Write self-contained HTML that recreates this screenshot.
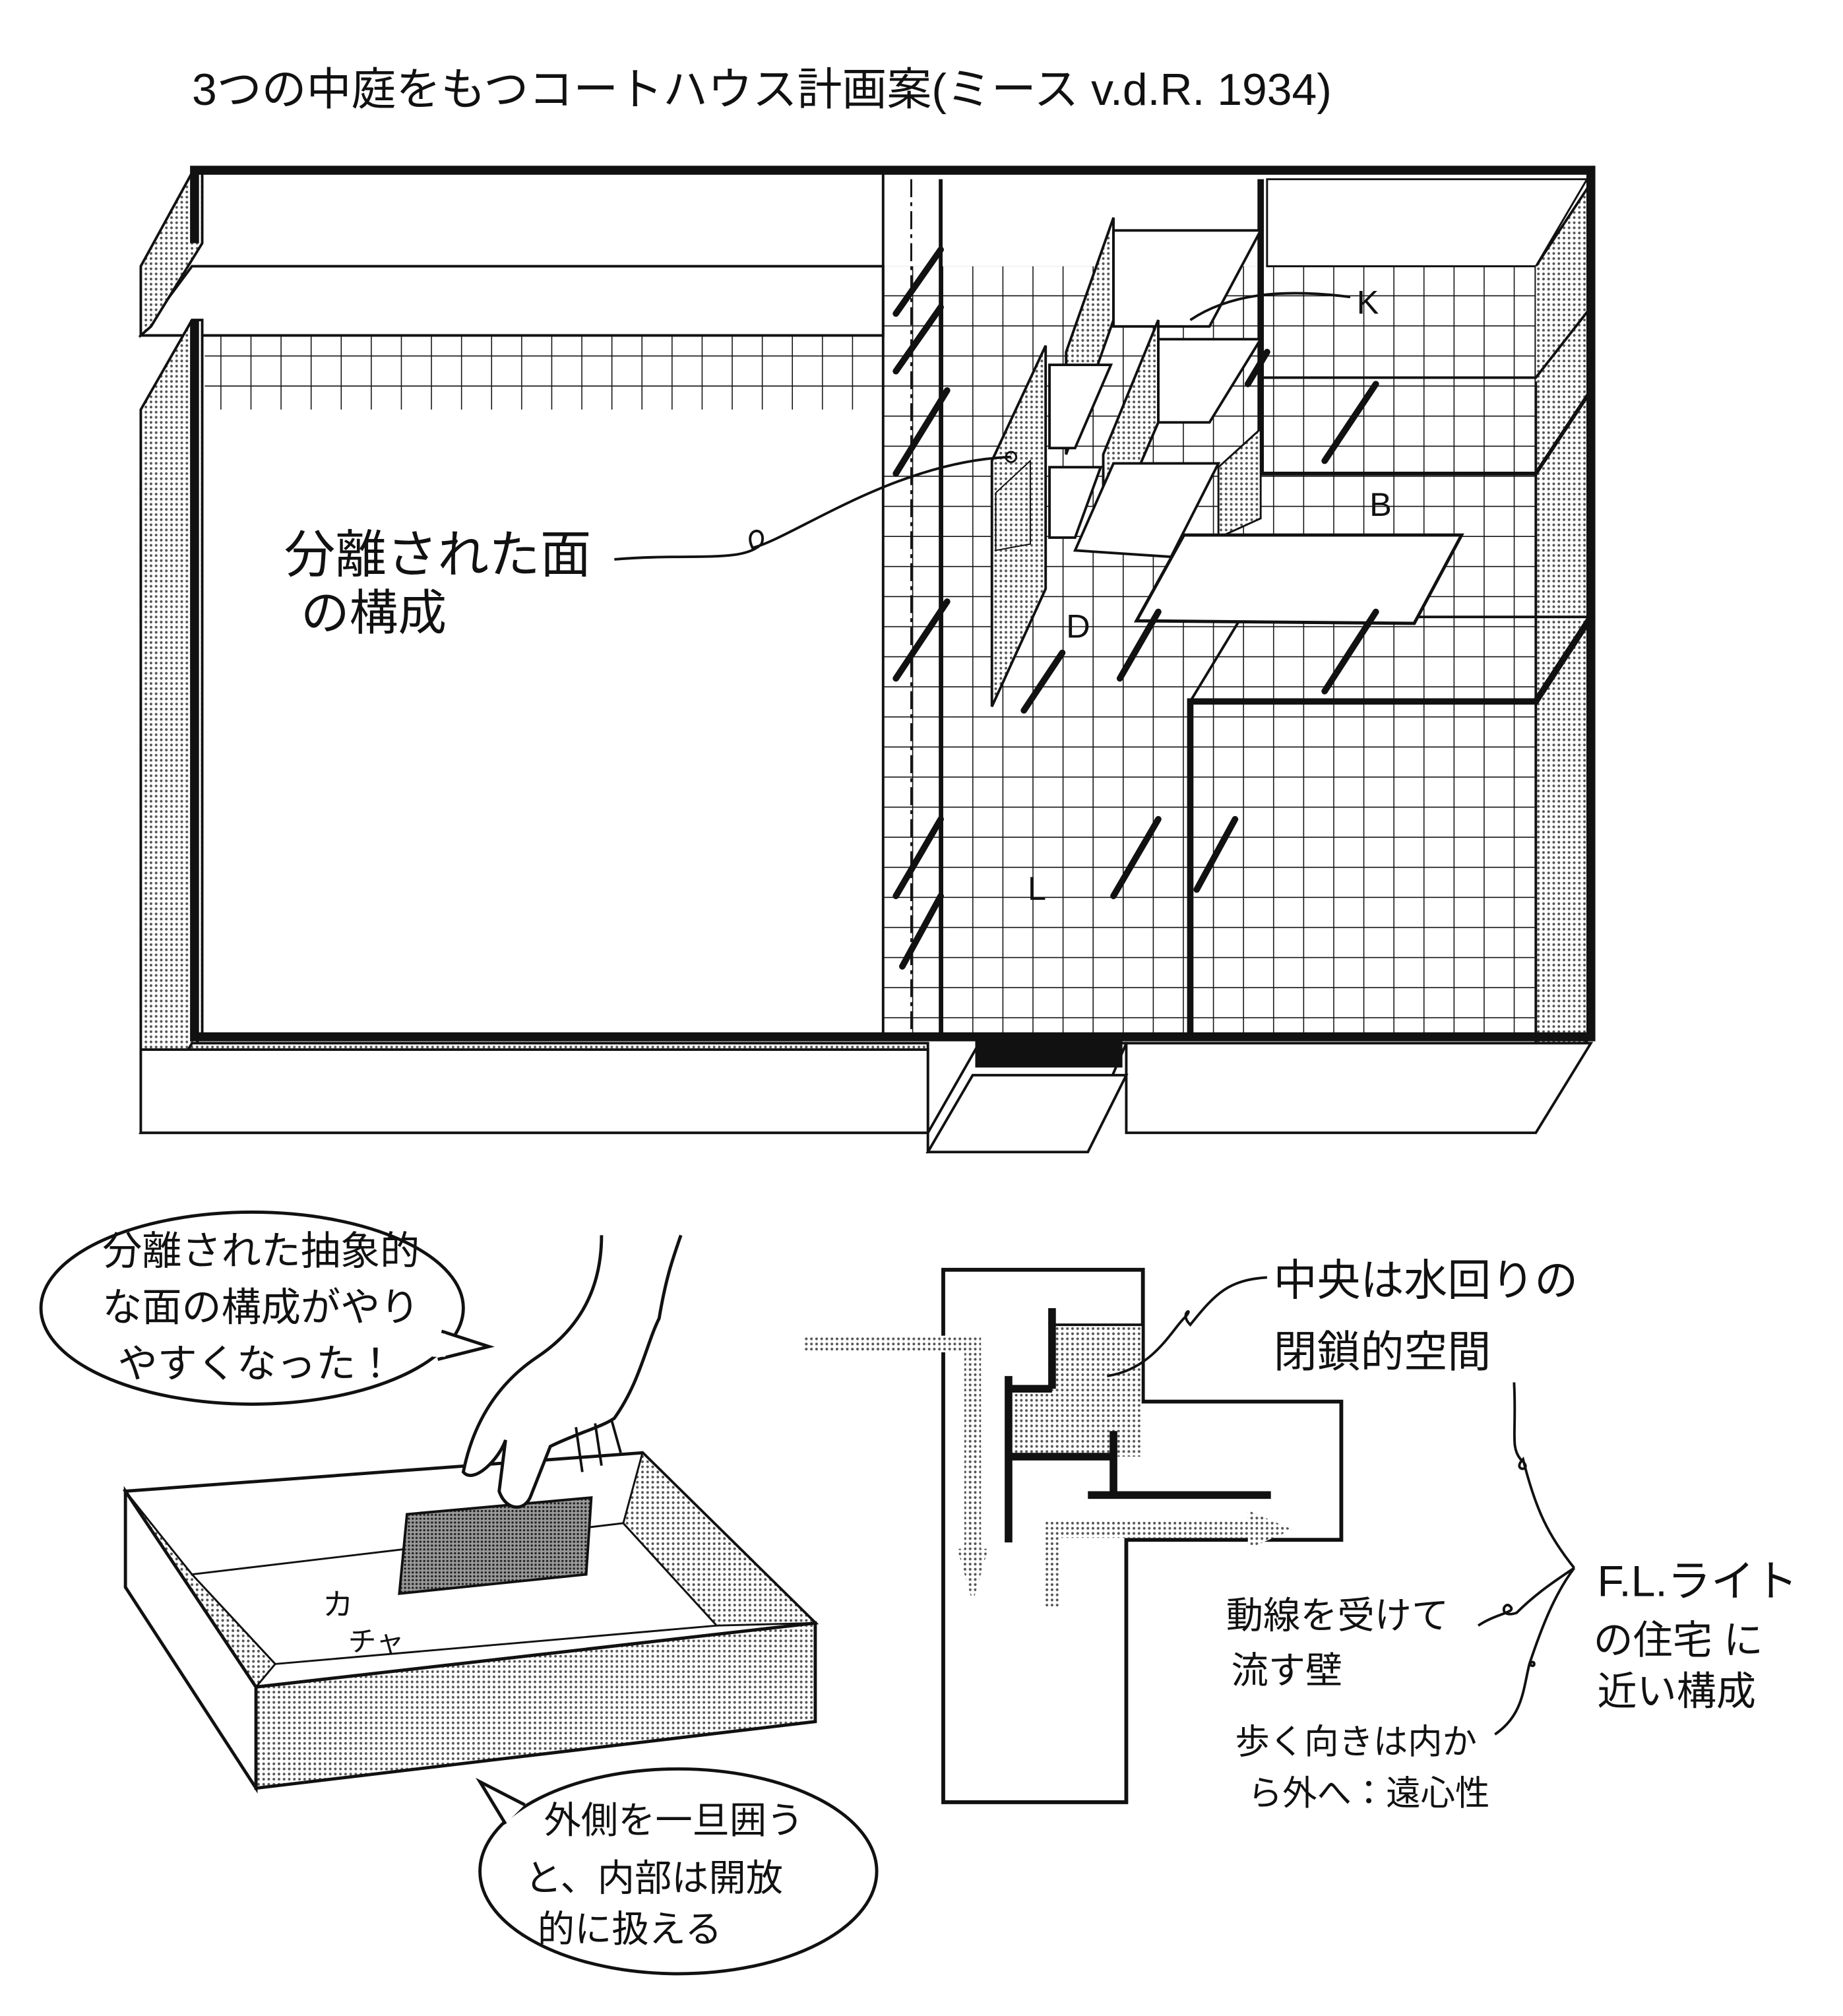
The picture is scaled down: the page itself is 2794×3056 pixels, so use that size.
<!DOCTYPE html>
<html><head><meta charset="utf-8">
<style>
html,body{margin:0;padding:0;background:#fff;}
svg{display:block;}
text{font-family:"Liberation Sans","Noto Sans CJK JP",sans-serif;fill:#111;}
</style></head>
<body>
<svg width="2794" height="3056" viewBox="0 0 1440 1575" xmlns="http://www.w3.org/2000/svg">
<defs>
<pattern id="grid" width="23.5" height="23.5" patternUnits="userSpaceOnUse" x="690" y="208">
<path d="M23.5 0V23.5M0 23.5H23.5" stroke="#111" stroke-width="1.6" fill="none"/>
</pattern>
<pattern id="dots" width="4" height="4" patternUnits="userSpaceOnUse">
<rect width="4" height="4" fill="#fff"/><circle cx="2" cy="2" r="1.05" fill="#555"/>
</pattern>
<pattern id="dots2" width="3" height="3" patternUnits="userSpaceOnUse">
<rect width="3" height="3" fill="#999"/><circle cx="1.5" cy="1.5" r="0.9" fill="#222"/>
</pattern>
</defs>
<rect width="1440" height="1575" fill="#fff"/>

<text x="150" y="82" font-size="35">3つの中庭をもつコートハウス計画案(ミース v.d.R. 1934)</text>

<rect x="160" y="262" width="530" height="58" fill="url(#grid)"/>
<rect x="690" y="208" width="510" height="600" fill="url(#grid)"/>
<rect x="155" y="136" width="535" height="72" fill="#fff"/>
<polygon points="110,262 150,208 690,208 690,262" fill="#fff" stroke="#111" stroke-width="2"/>
<line x1="110" y1="262" x2="690" y2="262" stroke="#111" stroke-width="2"/>
<rect x="158" y="320" width="532" height="488" fill="#fff"/>
<polygon points="110,208 150,135 158,135 158,190 118,255 110,262" fill="url(#dots)" stroke="#111" stroke-width="2"/>
<polygon points="110,320 150,250 158,250 158,808 110,880" fill="url(#dots)" stroke="#111" stroke-width="2"/>
<polygon points="1200,208 1243,143 1243,808 1200,880" fill="url(#dots)" stroke="#111" stroke-width="2"/>
<rect x="990" y="140" width="210" height="68" fill="#fff"/>
<polygon points="990,140 1240,140 1200,208 990,208" fill="#fff" stroke="#111" stroke-width="1.5"/>
<rect x="1200" y="208" width="40" height="90" fill="url(#dots)"/>

<path d="M152 250V810H1243V133H152V190" stroke="#111" stroke-width="7" fill="none"/>
<line x1="690" y1="133" x2="690" y2="808" stroke="#111" stroke-width="2"/>
<line x1="735" y1="140" x2="735" y2="808" stroke="#111" stroke-width="3"/>
<line x1="712" y1="140" x2="712" y2="808" stroke="#111" stroke-width="1.5" stroke-dasharray="14 4 3 4"/>

<polygon points="110,885 150,815 725,815 725,885" fill="url(#dots)" stroke="#111" stroke-width="2"/>
<rect x="110" y="820" width="615" height="65" fill="#fff" stroke="#111" stroke-width="2"/>
<polygon points="880,815 1243,815 1200,885 880,885" fill="#fff" stroke="#111" stroke-width="2"/>
<polygon points="725,885 765,815 880,815 850,885 725,900" fill="#fff" stroke="#111" stroke-width="2"/>
<rect x="762" y="812" width="115" height="22" fill="#111"/>
<polygon points="725,900 760,840 880,840 850,900" fill="#fff" stroke="#111" stroke-width="2"/>

<line x1="985" y1="140" x2="985" y2="370" stroke="#111" stroke-width="5"/>
<polyline points="985,370 1200,370 1243,305" stroke="#111" stroke-width="3" fill="none"/>
<polyline points="985,295 1200,295 1243,240" stroke="#111" stroke-width="2" fill="none"/>
<polyline points="930,808 930,548 1200,548 1243,482" stroke="#111" stroke-width="5" fill="none"/>
<polyline points="930,548 970,482 1243,482" stroke="#111" stroke-width="2" fill="none"/>

<polygon points="833,275 870,170 870,250 833,355" fill="url(#dots)" stroke="#111" stroke-width="2"/>
<polygon points="870,180 985,180 945,255 870,255" fill="#fff" stroke="#111" stroke-width="2"/>
<polygon points="905,265 985,265 945,330 905,330" fill="#fff" stroke="#111" stroke-width="2"/>
<polygon points="862,355 905,250 905,330 862,430" fill="url(#dots)" stroke="#111" stroke-width="2"/>
<polygon points="820,285 868,285 840,350 820,350" fill="#fff" stroke="#111" stroke-width="2"/>
<polygon points="775,360 817,270 817,460 775,552" fill="url(#dots)" stroke="#111" stroke-width="2"/>
<polygon points="820,365 860,365 840,420 820,420" fill="#fff" stroke="#111" stroke-width="2"/>
<polygon points="840,430 870,362 952,362 915,435" fill="#fff" stroke="#111" stroke-width="2"/>
<polygon points="952,365 985,335 985,405 952,420" fill="url(#dots)" stroke="#111" stroke-width="1.5"/>
<polygon points="888,485 925,418 1142,418 1105,487" fill="#fff" stroke="#111" stroke-width="2.5"/>
<polygon points="778,385 805,360 805,425 778,430" fill="url(#dots)" stroke="#111" stroke-width="1"/>
<g stroke="#111" stroke-width="5" stroke-linecap="round">
<line x1="700" y1="370" x2="740" y2="305"/><line x1="700" y1="530" x2="740" y2="470"/>
<line x1="700" y1="700" x2="735" y2="640"/><line x1="705" y1="755" x2="735" y2="700"/>
<line x1="700" y1="245" x2="735" y2="195"/><line x1="700" y1="290" x2="735" y2="240"/>
<line x1="1035" y1="360" x2="1075" y2="300"/><line x1="1035" y1="540" x2="1075" y2="478"/>
<line x1="870" y1="700" x2="905" y2="640"/><line x1="935" y1="695" x2="965" y2="640"/>
<line x1="875" y1="530" x2="905" y2="478"/><line x1="975" y1="300" x2="990" y2="275"/>
<line x1="800" y1="555" x2="830" y2="510"/>
</g>

<text x="1060" y="245" font-size="26">K</text>
<path d="M930 250 C960 230 1000 225 1055 232" stroke="#111" stroke-width="2" fill="none"/>
<text x="1070" y="403" font-size="26">B</text>
<text x="833" y="498" font-size="26">D</text>
<text x="803" y="703" font-size="26">L</text>
<text x="222" y="447" font-size="40">分離された面</text>
<text x="235" y="492" font-size="38">の構成</text>
<path d="M480 437 C540 432 580 440 595 425 C600 410 580 412 588 428 C620 420 700 360 790 357" stroke="#111" stroke-width="2" fill="none"/>
<circle cx="790" cy="357" r="4" fill="none" stroke="#111" stroke-width="1.5"/>

<ellipse cx="197" cy="1022" rx="165" ry="75" fill="#fff" stroke="#111" stroke-width="2.5"/>
<path d="M345 1040 L382 1052 L342 1062" fill="#fff" stroke="#111" stroke-width="2.5"/>
<rect x="338" y="1042" width="10" height="18" fill="#fff"/>
<text x="80" y="988" font-size="31">分離された抽象的</text>
<text x="80" y="1032" font-size="31">な面の構成がやり</text>
<text x="92" y="1076" font-size="31">やすくなった！</text>

<polygon points="98,1165 502,1135 637,1268 200,1318" fill="#fff" stroke="#111" stroke-width="2.5"/>
<polygon points="150,1230 487,1190 560,1270 215,1300" fill="#fff" stroke="#111" stroke-width="1.5"/>
<polygon points="98,1165 150,1230 215,1300 200,1318" fill="url(#dots)" stroke="#111" stroke-width="1.5"/>
<polygon points="502,1135 487,1190 560,1270 637,1268" fill="url(#dots)" stroke="#111" stroke-width="1.5"/>
<polygon points="200,1318 637,1268 637,1345 200,1397" fill="url(#dots)" stroke="#111" stroke-width="2.5"/>
<polygon points="98,1165 200,1318 200,1397 98,1240" fill="#fff" stroke="#111" stroke-width="2.5"/>
<polygon points="318,1183 462,1170 458,1230 312,1245" fill="url(#dots2)" stroke="#111" stroke-width="2"/>
<path d="M470 965 C470 1010 450 1040 420 1060 C390 1080 370 1110 362 1150 C370 1160 390 1140 395 1125 L390 1165 C395 1180 410 1182 415 1168 L430 1130 C450 1120 470 1115 480 1108 C500 1080 505 1050 515 1030 C520 1000 525 985 532 965" fill="#fff" stroke="#111" stroke-width="2.5"/>
<path d="M450 1115 L455 1150 M465 1112 L470 1145 M478 1110 L485 1135" stroke="#111" stroke-width="2" fill="none"/>
<text x="252" y="1262" font-size="24">カ</text>
<text x="272" y="1290" font-size="22">チャ</text>

<ellipse cx="530" cy="1462" rx="155" ry="80" fill="#fff" stroke="#111" stroke-width="2.5"/>
<path d="M395 1425 L375 1392 L410 1410" fill="#fff" stroke="#111" stroke-width="2.5"/>
<text x="425" y="1432" font-size="29">外側を一旦囲う</text>
<text x="410" y="1477" font-size="29">と、内部は開放</text>
<text x="420" y="1517" font-size="29">的に扱える</text>

<polygon points="737,992 893,992 893,1095 1048,1095 1048,1203 880,1203 880,1408 737,1408" fill="#fff" stroke="#111" stroke-width="3"/>
<rect x="822" y="1035" width="70" height="103" fill="url(#dots)"/>
<rect x="790" y="1085" width="40" height="53" fill="url(#dots)"/>
<line x1="822" y1="1035" x2="893" y2="1035" stroke="#111" stroke-width="2"/>
<g stroke="#111" stroke-width="6">
<line x1="822" y1="1022" x2="822" y2="1085"/><line x1="788" y1="1075" x2="788" y2="1205"/>
<line x1="788" y1="1085" x2="822" y2="1085"/>
<line x1="788" y1="1138" x2="868" y2="1138"/><line x1="870" y1="1118" x2="870" y2="1168"/>
<line x1="850" y1="1168" x2="993" y2="1168"/>
</g>
<path d="M628 1050 H760 V1230" stroke="url(#dots)" stroke-width="13" fill="none"/>
<polygon points="748,1210 772,1210 760,1252" fill="url(#dots)"/>
<path d="M822 1255 V1195 H985" stroke="url(#dots)" stroke-width="13" fill="none"/>
<polygon points="975,1180 975,1210 1010,1195" fill="url(#dots)"/>

<text x="995" y="1012" font-size="34">中央は水回りの</text>
<text x="995" y="1068" font-size="34">閉鎖的空間</text>
<path d="M865 1075 C900 1070 915 1040 925 1030 C935 1020 920 1025 930 1035 C950 1010 960 1000 990 998" stroke="#111" stroke-width="2" fill="none"/>
<text x="958" y="1272" font-size="29">動線を受けて</text>
<text x="962" y="1315" font-size="29">流す壁</text>
<text x="965" y="1370" font-size="27">歩く向きは内か</text>
<text x="975" y="1410" font-size="27">ら外へ：遠心性</text>
<text x="1248" y="1247" font-size="34">F.L.ライト</text>
<text x="1245" y="1292" font-size="31">の住宅 に</text>
<text x="1248" y="1332" font-size="31">近い構成</text>
<path d="M1183 1080 C1185 1120 1180 1130 1188 1140 C1200 1150 1180 1150 1190 1140 C1200 1180 1210 1200 1230 1225" stroke="#111" stroke-width="2" fill="none"/>
<path d="M1155 1270 C1170 1260 1185 1260 1180 1255 C1175 1250 1170 1265 1185 1260 C1200 1245 1215 1235 1230 1225" stroke="#111" stroke-width="2" fill="none"/>
<path d="M1168 1355 C1190 1340 1190 1320 1195 1300 C1200 1295 1200 1305 1195 1300 C1205 1270 1215 1245 1230 1225" stroke="#111" stroke-width="2" fill="none"/>
</svg>
</body></html>
